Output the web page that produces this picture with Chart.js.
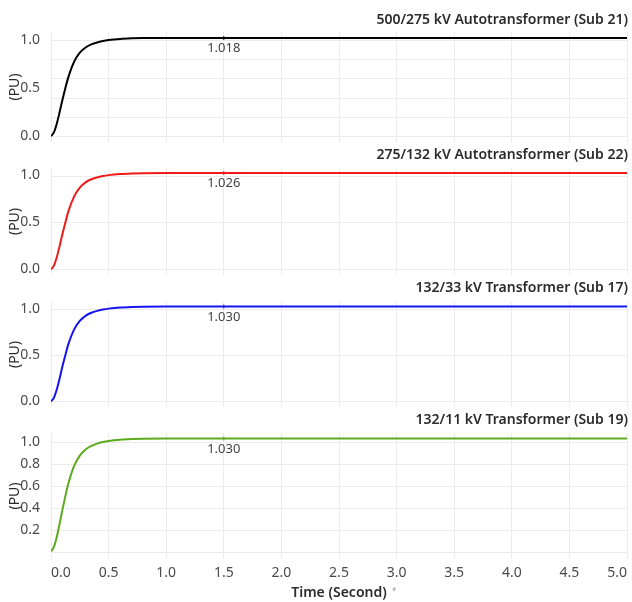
<!DOCTYPE html>
<html lang="en">
<head>
<meta charset="UTF-8">
<title>Transformer Energisation Response</title>
<script src="https://cdn.jsdelivr.net/npm/chart.js"></script>
<style>
  body { margin: 0; background: #fff; }
  #wrap { position: relative; width: 632px; height: 602px; }
  #wrap canvas { position: absolute; left: 0; }
  #mark { position: absolute; left: 392px; top: 585px; font: 8px "Noto Sans", sans-serif; color: #999; }
</style>
</head>
<body>
<div id="wrap">
  <canvas id="p1" width="632" height="144" style="top:0px"></canvas>
  <canvas id="p2" width="632" height="131" style="top:146px"></canvas>
  <canvas id="p3" width="632" height="130" style="top:279px"></canvas>
  <canvas id="p4" width="632" height="192" style="top:410px"></canvas>
  <span id="mark">*</span>
</div>
<script>
// time axis (s) and per-unit response of each transformer
const timeSec = [0, 0.025, 0.05, 0.075, 0.1, 0.125, 0.15, 0.2, 0.25, 0.3, 0.35, 0.4, 0.45, 0.5, 0.6, 0.7, 0.8, 1.0, 1.5, 2.0, 2.5, 3.0, 3.5, 4.0, 4.5, 5.0];
const sub21 = [0, 0.04, 0.13, 0.25, 0.38, 0.50, 0.61, 0.77, 0.865, 0.92, 0.952, 0.972, 0.986, 0.996, 1.008, 1.014, 1.017, 1.018, 1.018, 1.018, 1.018, 1.018, 1.018, 1.018, 1.018, 1.018];
const sub22 = [0, 0.04, 0.13, 0.25, 0.38, 0.50, 0.615, 0.775, 0.872, 0.927, 0.96, 0.98, 0.994, 1.004, 1.016, 1.022, 1.025, 1.026, 1.026, 1.026, 1.026, 1.026, 1.026, 1.026, 1.026, 1.026];
const sub17 = [0, 0.04, 0.13, 0.25, 0.385, 0.505, 0.62, 0.78, 0.875, 0.93, 0.963, 0.984, 0.998, 1.008, 1.02, 1.026, 1.029, 1.030, 1.030, 1.030, 1.030, 1.030, 1.030, 1.030, 1.030, 1.030];
const sub19 = [0.01, 0.05, 0.14, 0.26, 0.39, 0.51, 0.62, 0.78, 0.875, 0.93, 0.963, 0.984, 0.998, 1.008, 1.02, 1.026, 1.029, 1.030, 1.030, 1.030, 1.030, 1.030, 1.030, 1.030, 1.030, 1.030];

const titles = [
  "500/275 kV Autotransformer (Sub 21)",
  "275/132 kV Autotransformer (Sub 22)",
  "132/33 kV Transformer (Sub 17)",
  "132/11 kV Transformer (Sub 19)"
];
const colors = ["#000000", "#f01a1a", "#1414f0", "#5cab1e"];

const xTicks = [0, 0.5, 1.0, 1.5, 2.0, 2.5, 3.0, 3.5, 4.0, 4.5, 5.0];
const yGridFine = [0, 0.2, 0.4, 0.6, 0.8, 1.0];
const yGridCoarse = [0, 0.5, 1.0];
const yLabelsCoarse = [0, 0.5, 1.0];
const yLabelsFine = [0, 0.2, 0.4, 0.6, 0.8, 1.0];
const labelTime = 1.5;

const FONT = '"Noto Sans", sans-serif';
const GRID = "#ebebeb";

// horizontal grid lines, drawn here so they can differ from the labelled ticks
const hGrid = {
  id: "hGrid",
  beforeDatasetsDraw(chart, args, opts) {
    const { ctx, chartArea } = chart;
    const y = chart.scales.y;
    ctx.save();
    ctx.strokeStyle = GRID;
    ctx.lineWidth = 1;
    opts.values.forEach(v => {
      const py = Math.round(y.getPixelForValue(v)) + 0.5;
      ctx.beginPath();
      ctx.moveTo(chartArea.left, py);
      ctx.lineTo(chartArea.right, py);
      ctx.stroke();
    });
    ctx.restore();
  }
};

// panel title (right aligned) and the steady-state value under the curve
const panelText = {
  id: "panelText",
  afterDatasetsDraw(chart, args, opts) {
    const ctx = chart.ctx;
    ctx.save();
    ctx.font = "600 14px " + FONT;
    ctx.fillStyle = "#2b2b2b";
    ctx.textAlign = "right";
    ctx.textBaseline = "middle";
    ctx.fillText(opts.title, chart.chartArea.right + 1, opts.titleY);

    const pts = chart.data.datasets[0].data;
    const p = pts[timeSec.indexOf(labelTime)];
    const x = chart.scales.x.getPixelForValue(p.x);
    const y = chart.scales.y.getPixelForValue(p.y);
    ctx.font = "13px " + FONT;
    ctx.fillStyle = "#444";
    ctx.textAlign = "center";
    ctx.textBaseline = "top";
    ctx.fillText(p.y.toFixed(3), x, y + 4);
    ctx.restore();
  }
};

function makePanel(id, values, i, opt) {
  const labelIdx = timeSec.indexOf(labelTime);
  return new Chart(document.getElementById(id), {
    type: "line",
    data: {
      datasets: [{
        data: timeSec.map((t, k) => ({ x: t, y: values[k] })),
        borderColor: colors[i],
        backgroundColor: colors[i],
        borderWidth: 2,
        cubicInterpolationMode: "monotone",
        pointStyle: "line",
        rotation: 90,
        pointRadius: ctx => ctx.dataIndex === labelIdx ? 2 : 0,
        pointBorderWidth: 1
      }]
    },
    options: {
      responsive: false,
      animation: false,
      layout: { padding: { left: 0, right: 5, top: opt.padTop, bottom: opt.padBottom } },
      plugins: {
        legend: { display: false },
        tooltip: { enabled: false },
        hGrid: { values: opt.grid },
        panelText: { title: titles[i], titleY: opt.titleY }
      },
      scales: {
        x: {
          type: "linear",
          min: 0,
          max: 5,
          afterBuildTicks: s => { s.ticks = xTicks.map(v => ({ value: v })); },
          afterFit: s => {
            s.paddingLeft = 0; s.paddingRight = 0;
            s.height = opt.showX ? 43 : 0;
          },
          border: { display: false },
          grid: { color: GRID, drawTicks: false },
          ticks: {
            display: opt.showX,
            align: "inner",
            maxRotation: 0,
            autoSkip: false,
            padding: 6,
            color: "#4a4a4a",
            font: { family: FONT, size: 14 },
            callback: v => v.toFixed(1)
          },
          title: {
            display: opt.showX,
            text: "Time (Second)",
            color: "#2b2b2b",
            font: { family: FONT, size: 14, weight: "600" },
            padding: { top: 4, bottom: 1 }
          }
        },
        y: {
          min: -0.06,
          max: 1.08,
          afterBuildTicks: s => { s.ticks = opt.labels.map(v => ({ value: v })); },
          afterFit: s => { s.width = 51; s.paddingTop = 0; s.paddingBottom = 0; },
          border: { display: false },
          grid: { display: false },
          ticks: {
            autoSkip: false,
            padding: 3,
            color: "#4a4a4a",
            font: { family: FONT, size: 14 },
            callback: v => (opt.hideZero && v === 0) ? "" : v.toFixed(1)
          },
          title: {
            display: true,
            text: "(PU)",
            color: "#2b2b2b",
            font: { family: FONT, size: 14 },
            padding: { top: 7, bottom: 0 }
          }
        }
      }
    },
    plugins: [hGrid, panelText]
  });
}

makePanel("p1", sub21, 0, { grid: yGridFine, labels: yLabelsCoarse, padTop: 32, padBottom: 2, titleY: 20, showX: false });
makePanel("p2", sub22, 1, { grid: yGridCoarse, labels: yLabelsCoarse, padTop: 22, padBottom: 2, titleY: 9, showX: false });
makePanel("p3", sub17, 2, { grid: yGridCoarse, labels: yLabelsCoarse, padTop: 23, padBottom: 2, titleY: 9, showX: false });
makePanel("p4", sub19, 3, { grid: yGridFine, labels: yLabelsFine, hideZero: true, padTop: 23, padBottom: 0, titleY: 10, showX: true });
</script>
</body>
</html>
